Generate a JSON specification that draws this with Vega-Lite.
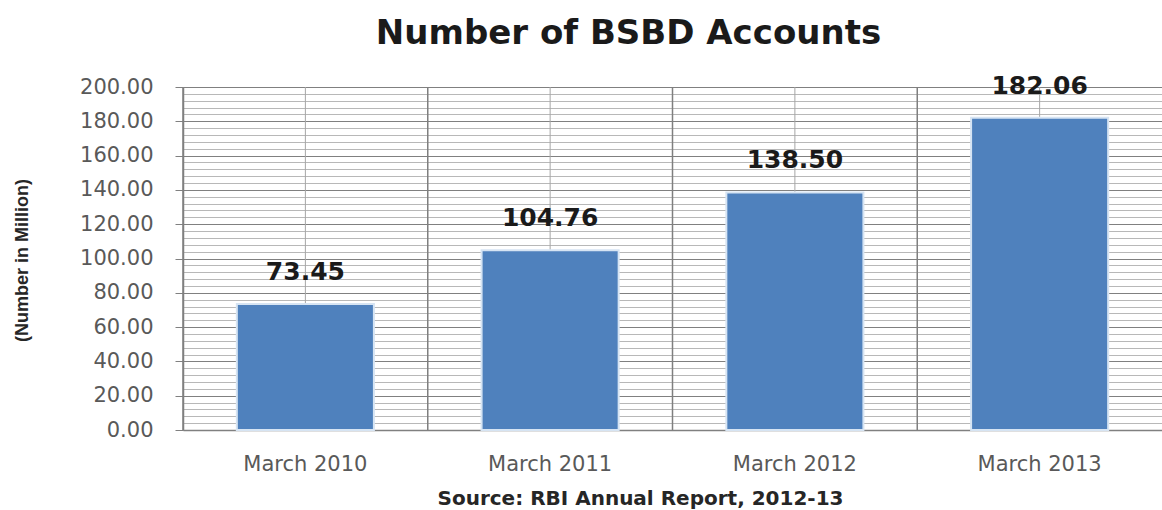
{
  "$schema": "https://vega.github.io/schema/vega-lite/v6.json",
  "width": 979,
  "height": 343,
  "autosize": {"type": "none"},
  "padding": {"left": 183, "top": 87, "right": 0, "bottom": 80},
  "background": "white",
  "title": {
    "text": "Number of BSBD Accounts",
    "font": "DejaVu Sans",
    "fontSize": 34,
    "fontWeight": "bold",
    "color": "#1a1a1a",
    "anchor": "middle",
    "dx": -44,
    "offset": 23
  },
  "data": {
    "values": [
      {"period": "March 2010", "accounts": 73.45},
      {"period": "March 2011", "accounts": 104.76},
      {"period": "March 2012", "accounts": 138.50},
      {"period": "March 2013", "accounts": 182.06}
    ]
  },
  "encoding": {
    "x": {
      "field": "period",
      "type": "nominal",
      "sort": null,
      "scale": {"paddingInner": 0, "paddingOuter": 0},
      "axis": {
        "title": "Source: RBI Annual Report, 2012-13",
        "grid": false,
        "ticks": false,
        "tickSize": 0,
        "domainColor": "#808080",
        "domainWidth": 1.5,
        "labelAngle": 0,
        "labelFont": "DejaVu Sans",
        "labelFontSize": 21,
        "labelColor": "#595959",
        "labelPadding": 23,
        "titleFont": "DejaVu Sans",
        "titleFontSize": 20,
        "titleFontWeight": "bold",
        "titleColor": "#262626",
        "titleX": 457,
        "titleY": 74,
        "titleBaseline": "alphabetic",
        "titleAlign": "center"
      }
    }
  },
  "layer": [
    {
      "mark": {"type": "rule", "color": "#a6a6a6", "strokeWidth": 1},
      "encoding": {}
    },
    {
      "mark": {"type": "rule", "color": "#7f7f7f", "strokeWidth": 1.5},
      "encoding": {
        "x": {"field": "period", "type": "nominal", "sort": null, "bandPosition": 0}
      }
    },
    {
      "mark": {"type": "bar", "color": "#4F81BD", "width": {"band": 0.56}, "stroke": "#d6e4f3", "strokeWidth": 2},
      "encoding": {
        "y": {
          "field": "accounts",
          "type": "quantitative",
          "scale": {"domain": [0, 200], "nice": false},
          "axis": {
            "title": "(Number in Million)",
            "values": [0,4,8,12,16,20,24,28,32,36,40,44,48,52,56,60,64,68,72,76,80,84,88,92,96,100,104,108,112,116,120,124,128,132,136,140,144,148,152,156,160,164,168,172,176,180,184,188,192,196,200],
            "labelExpr": "datum.value % 20 === 0 ? format(datum.value, '.2f') : ''",
            "labelOverlap": false,
            "labelFlush": false,
            "grid": true,
            "gridColor": {"condition": {"test": "datum.value % 20 === 0", "value": "#808080"}, "value": "#b8b8b8"},
            "gridWidth": 1,
            "tickOpacity": {"condition": {"test": "datum.value % 20 === 0", "value": 1}, "value": 0},
            "tickSize": 8,
            "tickColor": "#808080",
            "domainColor": "#808080",
            "domainWidth": 1.5,
            "labelFont": "DejaVu Sans",
            "labelFontSize": 21,
            "labelColor": "#595959",
            "labelPadding": 22,
            "titleFont": "Liberation Sans",
            "titleFontSize": 18,
            "titleFontWeight": "bold",
            "titleColor": "#262626",
            "titleX": -161,
            "titleY": 173,
            "titleBaseline": "middle",
            "titleAngle": 270,
            "titleAlign": "center"
          }
        }
      }
    },
    {
      "mark": {"type": "text", "dy": -32, "font": "DejaVu Sans", "fontSize": 25, "fontWeight": "bold", "color": "#1a1a1a", "baseline": "middle"},
      "encoding": {
        "y": {
          "field": "accounts",
          "type": "quantitative",
          "scale": {"domain": [0, 200], "nice": false},
          "axis": {
            "title": "(Number in Million)",
            "values": [0,4,8,12,16,20,24,28,32,36,40,44,48,52,56,60,64,68,72,76,80,84,88,92,96,100,104,108,112,116,120,124,128,132,136,140,144,148,152,156,160,164,168,172,176,180,184,188,192,196,200],
            "labelExpr": "datum.value % 20 === 0 ? format(datum.value, '.2f') : ''",
            "labelOverlap": false,
            "labelFlush": false,
            "grid": true,
            "gridColor": {"condition": {"test": "datum.value % 20 === 0", "value": "#808080"}, "value": "#b8b8b8"},
            "gridWidth": 1,
            "tickOpacity": {"condition": {"test": "datum.value % 20 === 0", "value": 1}, "value": 0},
            "tickSize": 8,
            "tickColor": "#808080",
            "domainColor": "#808080",
            "domainWidth": 1.5,
            "labelFont": "DejaVu Sans",
            "labelFontSize": 21,
            "labelColor": "#595959",
            "labelPadding": 22,
            "titleFont": "Liberation Sans",
            "titleFontSize": 18,
            "titleFontWeight": "bold",
            "titleColor": "#262626",
            "titleX": -161,
            "titleY": 173,
            "titleBaseline": "middle",
            "titleAngle": 270,
            "titleAlign": "center"
          }
        },
        "text": {"field": "accounts", "type": "quantitative", "format": ".2f"}
      }
    }
  ]
}
